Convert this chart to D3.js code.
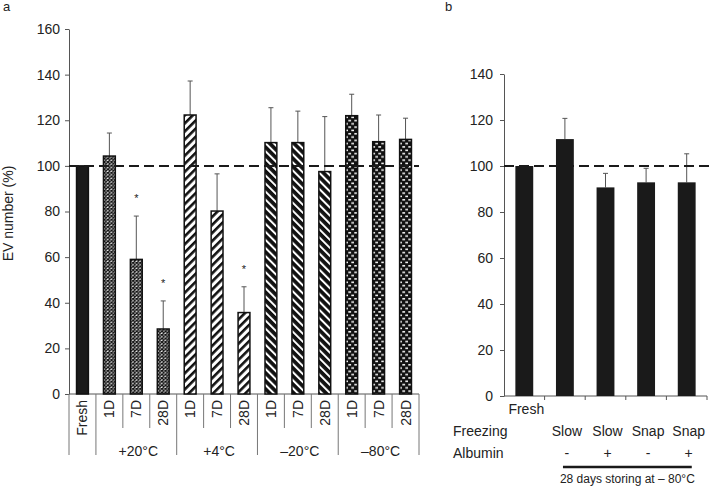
<!DOCTYPE html>
<html>
<head>
<meta charset="utf-8">
<script src="https://cdn.jsdelivr.net/npm/d3@7"></script>
<style>
  html, body { margin: 0; padding: 0; background: #fff; }
  svg { display: block; font-family: "Liberation Sans", Arial, sans-serif; }
</style>
</head>
<body>
<svg id="chart" width="709" height="488"></svg>
<script>
// ---------- data ----------
const groupsA = ["Fresh", "+20°C", "+4°C", "\u201320°C", "\u201380°C"];
const labelsA = ["Fresh", "1D", "7D", "28D", "1D", "7D", "28D", "1D", "7D", "28D", "1D", "7D", "28D"];
const groupOfA = [0, 1, 1, 1, 2, 2, 2, 3, 3, 3, 4, 4, 4];
const valuesA = [100, 104.3, 59, 28.5, 122.3, 80.2, 35.7, 110.2, 110.2, 97.5, 122, 110.6, 111.6];
const errorsA = [0, 10.1, 19, 12.3, 14.9, 16.3, 11.3, 15.3, 13.8, 24.1, 9.4, 11.7, 9.3];
const starsA = [false, false, true, true, false, false, true, false, false, false, false, false, false];
const ticksA = [0, 20, 40, 60, 80, 100, 120, 140, 160];

const catsB = ["Fresh", "Slow-", "Slow+", "Snap-", "Snap+"];
const freezingB = ["", "Slow", "Slow", "Snap", "Snap"];
const albuminB = ["", "-", "+", "-", "+"];
const valuesB = [100, 111.7, 90.7, 92.9, 92.9];
const errorsB = [0, 9, 6.1, 6.1, 12.4];
const ticksB = [0, 20, 40, 60, 80, 100, 120, 140];
const referenceLine = 100;

// ---------- setup ----------
const svg = d3.select("#chart");
const FS = 14;
const ink = "#1a1a1a";
const axisCol = "#555";
const txt = "#222";

const defs = svg.append("defs");
// +20°C : fine crosshatch
const p1 = defs.append("pattern").attr("id", "pat20").attr("patternUnits", "userSpaceOnUse")
  .attr("width", 3.6).attr("height", 3.6);
p1.append("rect").attr("width", 3.6).attr("height", 3.6).attr("fill", "#fff");
p1.append("path").attr("d", "M0,0 L3.6,3.6 M3.6,0 L0,3.6").attr("stroke", "#111").attr("stroke-width", 1.3);
// +4°C : white with black "/" stripes
const p2 = defs.append("pattern").attr("id", "pat4").attr("patternUnits", "userSpaceOnUse")
  .attr("width", 5.7).attr("height", 5.7).attr("patternTransform", "rotate(45)");
p2.append("rect").attr("width", 5.7).attr("height", 5.7).attr("fill", "#fff");
p2.append("rect").attr("width", 2.6).attr("height", 5.7).attr("fill", "#111");
// -20°C : black with white "\" stripes
const p3 = defs.append("pattern").attr("id", "patm20").attr("patternUnits", "userSpaceOnUse")
  .attr("width", 5.7).attr("height", 5.7).attr("patternTransform", "rotate(-45)");
p3.append("rect").attr("width", 5.7).attr("height", 5.7).attr("fill", "#111");
p3.append("rect").attr("width", 2.0).attr("height", 5.7).attr("fill", "#fff");
// -80°C : black with small white dashes
const p4 = defs.append("pattern").attr("id", "patm80").attr("patternUnits", "userSpaceOnUse")
  .attr("width", 6).attr("height", 6.6);
p4.append("rect").attr("width", 6).attr("height", 6.6).attr("fill", "#111");
p4.append("rect").attr("x", 0.3).attr("y", 1).attr("width", 2.8).attr("height", 1.5).attr("fill", "#fff");
p4.append("rect").attr("x", 3.3).attr("y", 4.3).attr("width", 2.8).attr("height", 1.5).attr("fill", "#fff");

const fills = [ink, "url(#pat20)", "url(#pat4)", "url(#patm20)", "url(#patm80)"];

// ---------- panel a ----------
const yA = d3.scaleLinear().domain([0, 160]).range([394, 29]);
const xA = d3.scaleBand().domain(d3.range(labelsA.length)).range([69, 419])
  .paddingInner(0.56).paddingOuter(0.28);

const gA = svg.append("g");
const axA = gA.append("g").attr("transform", "translate(69,0)")
  .call(d3.axisLeft(yA).tickValues(ticksA).tickSize(4).tickSizeOuter(0).tickPadding(5));
axA.selectAll("path, line").attr("stroke", axisCol);
axA.selectAll("text").attr("font-size", FS).attr("fill", txt).attr("font-family", "Liberation Sans, Arial, sans-serif");

// x baseline
const [xa0, xa1] = xA.range();
gA.append("line").attr("x1", xa0).attr("x2", xa1).attr("y1", yA(0)).attr("y2", yA(0))
  .attr("stroke", axisCol).attr("stroke-width", 1);

// separators
const groupBounds = [0, 1, 4, 7, 10, 13];
for (let i = 0; i <= labelsA.length; i++) {
  const bx = xa0 + i * xA.step();
  const long = groupBounds.includes(i);
  gA.append("line").attr("x1", bx).attr("x2", bx).attr("y1", yA(0)).attr("y2", long ? 455 : 428)
    .attr("stroke", "#777").attr("stroke-width", 1);
}

// category labels (rotated)
labelsA.forEach((lab, i) => {
  const cx = xA(i) + xA.bandwidth() / 2;
  gA.append("text").attr("transform", `translate(${cx + 5},400) rotate(-90)`)
    .attr("text-anchor", "end").attr("font-size", FS).attr("fill", txt).text(lab);
});
// group labels
[1, 2, 3, 4].forEach(g => {
  const idx = groupOfA.map((v, i) => v === g ? i : -1).filter(i => i >= 0);
  const left = xA(idx[0]) - (xA.step() - xA.bandwidth()) / 2;
  const right = left + idx.length * xA.step();
  gA.append("text").attr("x", (left + right) / 2 + 2).attr("y", 456)
    .attr("text-anchor", "middle").attr("font-size", FS).attr("fill", txt).text(groupsA[g]);
});

// error bars
valuesA.forEach((v, i) => {
  if (!errorsA[i]) return;
  const cx = xA(i) + xA.bandwidth() / 2;
  gA.append("line").attr("x1", cx).attr("x2", cx).attr("y1", yA(v)).attr("y2", yA(v + errorsA[i]))
    .attr("stroke", "#555").attr("stroke-width", 1);
  gA.append("line").attr("x1", cx - 2.5).attr("x2", cx + 2.5).attr("y1", yA(v + errorsA[i])).attr("y2", yA(v + errorsA[i]))
    .attr("stroke", "#555").attr("stroke-width", 1);
});

// bars
gA.selectAll("rect.bar").data(valuesA).join("rect").attr("class", "bar")
  .attr("x", (d, i) => xA(i)).attr("width", xA.bandwidth())
  .attr("y", d => yA(d)).attr("height", d => yA(0) - yA(d))
  .attr("fill", (d, i) => fills[groupOfA[i]])
  .attr("stroke", "#111").attr("stroke-width", 1.5);

// stars
valuesA.forEach((v, i) => {
  if (!starsA[i]) return;
  const cx = xA(i) + xA.bandwidth() / 2;
  gA.append("text").attr("x", cx).attr("y", yA(v + errorsA[i]) - 14)
    .attr("text-anchor", "middle").attr("font-size", 11).attr("fill", "#222").text("*");
});

// reference dashed line
gA.append("line").attr("x1", xa0).attr("x2", xa1).attr("y1", yA(referenceLine)).attr("y2", yA(referenceLine))
  .attr("stroke", ink).attr("stroke-width", 2).attr("stroke-dasharray", "10,5");

// y title
gA.append("text").attr("transform", `translate(13,${(yA(0) + yA(160)) / 2 + 2}) rotate(-90)`)
  .attr("text-anchor", "middle").attr("font-size", FS).attr("fill", txt).text("EV number (%)");
// panel label
svg.append("text").attr("x", 3).attr("y", 11).attr("font-size", 13).attr("fill", txt).text("a");

// ---------- panel b ----------
const yB = d3.scaleLinear().domain([0, 140]).range([396, 74]);
const xB = d3.scaleBand().domain(catsB).range([504, 707]).paddingInner(0.56).paddingOuter(0.28);
const gB = svg.append("g");
const axB = gB.append("g").attr("transform", "translate(504,0)")
  .call(d3.axisLeft(yB).tickValues(ticksB).tickSize(4).tickSizeOuter(0).tickPadding(7));
axB.selectAll("path, line").attr("stroke", axisCol);
axB.selectAll("text").attr("font-size", FS).attr("fill", txt).attr("font-family", "Liberation Sans, Arial, sans-serif");

const [xb0, xb1] = xB.range();
gB.append("line").attr("x1", xb0).attr("x2", xb1).attr("y1", yB(0)).attr("y2", yB(0))
  .attr("stroke", axisCol).attr("stroke-width", 1);
for (let i = 1; i <= catsB.length; i++) {
  const bx = xb0 + i * xB.step();
  gB.append("line").attr("x1", bx).attr("x2", bx).attr("y1", yB(0)).attr("y2", yB(0) + 4)
    .attr("stroke", axisCol).attr("stroke-width", 1);
}

// error bars
valuesB.forEach((v, i) => {
  if (!errorsB[i]) return;
  const cx = xB(catsB[i]) + xB.bandwidth() / 2;
  gB.append("line").attr("x1", cx).attr("x2", cx).attr("y1", yB(v)).attr("y2", yB(v + errorsB[i]))
    .attr("stroke", "#555").attr("stroke-width", 1);
  gB.append("line").attr("x1", cx - 2.5).attr("x2", cx + 2.5).attr("y1", yB(v + errorsB[i])).attr("y2", yB(v + errorsB[i]))
    .attr("stroke", "#555").attr("stroke-width", 1);
});
gB.selectAll("rect.bar").data(valuesB).join("rect").attr("class", "bar")
  .attr("x", (d, i) => xB(catsB[i])).attr("width", xB.bandwidth())
  .attr("y", d => yB(d)).attr("height", d => yB(0) - yB(d))
  .attr("fill", ink);

gB.append("line").attr("x1", xb0).attr("x2", 709).attr("y1", yB(referenceLine)).attr("y2", yB(referenceLine))
  .attr("stroke", ink).attr("stroke-width", 2).attr("stroke-dasharray", "10,5");

// labels
const cB = c => xB(c) + xB.bandwidth() / 2;
gB.append("text").attr("x", cB("Fresh") + 2).attr("y", 414).attr("text-anchor", "middle")
  .attr("font-size", FS).attr("fill", txt).text("Fresh");
gB.append("text").attr("x", 453).attr("y", 436).attr("font-size", FS).attr("fill", txt).text("Freezing");
gB.append("text").attr("x", 453).attr("y", 458).attr("font-size", FS).attr("fill", txt).text("Albumin");
catsB.forEach((c, i) => {
  if (freezingB[i]) gB.append("text").attr("x", cB(c) + 2).attr("y", 436).attr("text-anchor", "middle")
    .attr("font-size", FS).attr("fill", txt).text(freezingB[i]);
  if (albuminB[i]) gB.append("text").attr("x", cB(c) + 2).attr("y", 458).attr("text-anchor", "middle")
    .attr("font-size", FS).attr("fill", txt).text(albuminB[i]);
});
gB.append("line").attr("x1", xB("Slow-") + 7).attr("x2", xB("Snap+") + 14).attr("y1", 467).attr("y2", 467)
  .attr("stroke", ink).attr("stroke-width", 2.5);
gB.append("text").attr("x", (xB("Slow-") + 7 + xB("Snap+") + 14) / 2).attr("y", 483)
  .attr("text-anchor", "middle").attr("font-size", 12).attr("fill", txt).text("28 days storing at \u2013 80°C");
svg.append("text").attr("x", 445).attr("y", 11).attr("font-size", 13).attr("fill", txt).text("b");
</script>
</body>
</html>
